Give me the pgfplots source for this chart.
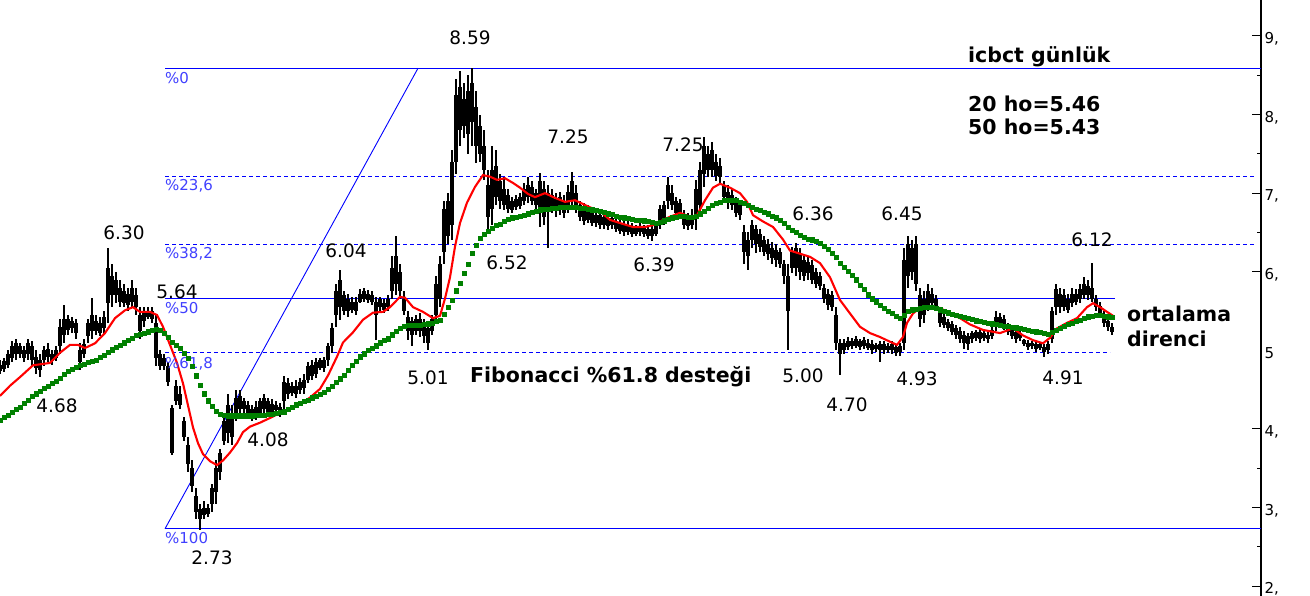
\documentclass[border=0pt]{standalone}
\usepackage{fontspec}
\setmainfont{DejaVu Sans}
\usepackage{pgfplots}
\usepackage{pgfplotstable}
\pgfplotsset{compat=1.18}
\definecolor{fibblue}{RGB}{0,0,255}
\definecolor{fibtext}{RGB}{64,64,255}
\definecolor{magreen}{RGB}{0,128,0}
\definecolor{mared}{RGB}{255,0,0}

\pgfplotstableread{
x l h bb bt g
0 4.70 4.88 4.74 4.82 4.11
4 4.72 4.90 4.76 4.86 4.15
8 4.78 5.00 4.82 4.95 4.18
12 4.85 5.12 4.90 5.05 4.21
16 4.88 5.15 4.95 5.10 4.25
20 4.90 5.10 4.95 5.05 4.28
24 4.85 5.05 4.90 5.00 4.33
28 4.88 5.15 4.95 5.10 4.37
32 4.80 5.12 4.88 5.05 4.42
36 4.70 5.00 4.78 4.92 4.45
40 4.66 4.95 4.75 4.88 4.48
44 4.80 5.05 4.88 5.00 4.52
48 4.85 5.10 4.92 5.02 4.55
52 4.82 5.00 4.86 4.95 4.58
56 4.86 5.05 4.90 5.00 4.61
60 4.95 5.40 5.05 5.30 4.65
64 5.10 5.58 5.20 5.40 4.70
68 5.20 5.45 5.26 5.40 4.74
72 5.22 5.42 5.28 5.38 4.76
76 5.15 5.40 5.22 5.35 4.79
80 4.75 5.10 4.85 5.00 4.81
84 4.90 5.15 4.95 5.08 4.83
88 5.10 5.40 5.18 5.35 4.85
92 5.15 5.67 5.25 5.45 4.86
96 5.20 5.45 5.25 5.38 4.88
100 5.18 5.42 5.22 5.35 4.91
104 5.20 5.50 5.28 5.42 4.94
108 5.35 6.30 5.60 6.05 4.98
112 5.55 6.10 5.70 5.95 5.01
116 5.60 6.00 5.70 5.90 5.04
120 5.55 5.90 5.62 5.80 5.07
124 5.55 5.85 5.60 5.75 5.10
128 5.50 5.80 5.58 5.72 5.13
132 5.55 5.90 5.62 5.80 5.16
136 5.45 5.80 5.55 5.70 5.19
140 5.15 5.55 5.25 5.45 5.21
144 5.30 5.55 5.38 5.50 5.22
148 5.40 5.55 5.42 5.50 5.24
152 5.35 5.55 5.40 5.50 5.26
156 4.80 5.45 4.90 5.35 5.27
160 4.75 5.00 4.80 4.95 5.26
164 4.75 4.95 4.80 4.90 5.22
168 4.55 4.85 4.60 4.80 5.17
172 3.67 4.30 3.70 4.27 5.11
176 4.30 4.62 4.35 4.55 5.07
180 4.25 4.55 4.30 4.45 5.03
184 3.85 4.15 3.90 4.10 4.97
188 3.45 3.90 3.55 3.80 4.90
192 3.20 3.60 3.28 3.50 4.80
196 2.85 3.25 2.95 3.15 4.68
200 2.72 3.05 2.85 2.98 4.56
204 2.85 3.08 2.90 3.00 4.45
208 2.88 3.05 2.92 3.00 4.36
212 2.95 3.30 3.05 3.25 4.29
216 3.05 3.60 3.20 3.50 4.23
220 3.35 3.75 3.45 3.70 4.19
224 3.80 4.15 3.85 4.10 4.18
228 3.82 4.45 3.95 4.30 4.17
232 3.80 4.30 3.90 4.20 4.17
236 4.10 4.50 4.20 4.40 4.17
240 4.15 4.50 4.25 4.42 4.17
244 4.20 4.40 4.25 4.35 4.17
248 4.15 4.35 4.20 4.30 4.17
252 4.10 4.30 4.15 4.25 4.17
256 4.12 4.35 4.18 4.28 4.18
260 4.15 4.40 4.20 4.35 4.18
264 4.20 4.45 4.25 4.40 4.18
268 4.15 4.40 4.22 4.35 4.19
272 4.18 4.38 4.22 4.32 4.19
276 4.20 4.35 4.24 4.30 4.20
280 4.15 4.33 4.20 4.28 4.21
284 4.25 4.68 4.35 4.60 4.22
288 4.38 4.65 4.45 4.58 4.25
292 4.42 4.60 4.46 4.55 4.28
296 4.40 4.62 4.45 4.55 4.31
300 4.45 4.65 4.50 4.60 4.33
304 4.45 4.70 4.52 4.62 4.35
308 4.58 4.85 4.62 4.80 4.37
312 4.62 4.88 4.68 4.82 4.40
316 4.65 4.90 4.70 4.85 4.42
320 4.75 4.90 4.78 4.88 4.44
324 4.72 4.92 4.78 4.88 4.47
328 4.80 5.10 4.88 5.05 4.51
332 4.97 5.35 5.05 5.28 4.55
336 5.30 5.85 5.45 5.75 4.60
340 5.39 6.02 5.55 5.90 4.64
344 5.45 5.75 5.50 5.70 4.69
348 5.42 5.72 5.50 5.65 4.75
352 5.48 5.68 5.52 5.62 4.81
356 5.45 5.68 5.50 5.62 4.86
360 5.60 5.78 5.62 5.72 4.92
364 5.62 5.80 5.65 5.75 4.96
368 5.60 5.77 5.64 5.72 5.00
372 5.58 5.75 5.62 5.70 5.03
376 5.13 5.68 5.45 5.62 5.06
380 5.50 5.68 5.55 5.65 5.10
384 5.48 5.65 5.52 5.60 5.13
388 5.50 5.70 5.55 5.65 5.15
392 5.65 6.20 5.75 6.05 5.20
396 5.70 6.45 5.85 6.20 5.25
400 5.65 6.10 5.75 6.00 5.28
404 5.45 5.75 5.50 5.65 5.31
408 5.13 5.50 5.25 5.42 5.32
412 5.05 5.42 5.20 5.38 5.32
416 5.20 5.45 5.25 5.40 5.32
420 5.17 5.48 5.25 5.40 5.32
424 5.10 5.40 5.18 5.32 5.33
428 5.01 5.35 5.10 5.28 5.34
432 5.20 5.45 5.25 5.40 5.35
436 5.35 5.95 5.45 5.85 5.37
440 5.55 6.20 5.65 6.10 5.39
444 6.10 6.90 6.25 6.80 5.46
448 6.35 7.00 6.45 6.90 5.55
452 6.40 7.55 6.60 7.40 5.64
456 7.25 8.45 7.40 8.25 5.76
460 7.60 8.55 7.80 8.35 5.86
464 7.70 8.40 7.85 8.20 5.98
468 7.50 8.50 7.75 8.30 6.10
472 7.60 8.59 7.90 8.40 6.24
476 7.38 8.30 7.60 8.10 6.34
480 7.40 8.00 7.50 7.85 6.43
484 7.17 7.80 7.30 7.60 6.48
488 6.52 7.30 6.70 7.10 6.52
492 6.60 7.60 6.80 7.30 6.56
496 6.85 7.55 6.95 7.35 6.59
500 6.80 7.25 6.90 7.15 6.61
504 6.79 7.20 6.85 7.05 6.64
508 6.75 7.05 6.80 6.98 6.67
512 6.75 6.95 6.78 6.90 6.69
516 6.78 6.98 6.82 6.92 6.70
520 6.80 7.00 6.84 6.95 6.71
524 6.85 7.13 6.90 7.05 6.72
528 6.88 7.20 6.95 7.10 6.74
532 6.85 7.15 6.90 7.08 6.76
536 6.79 7.05 6.85 7.00 6.77
540 6.57 7.26 6.75 7.15 6.79
544 6.60 7.15 6.70 7.05 6.80
548 6.30 7.10 6.80 7.00 6.80
552 6.75 7.05 6.80 6.98 6.81
556 6.70 7.00 6.78 6.92 6.81
560 6.72 7.02 6.78 6.95 6.82
564 6.68 6.98 6.75 6.90 6.82
568 6.75 7.10 6.82 7.02 6.82
572 6.80 7.27 6.90 7.15 6.82
576 6.75 7.10 6.82 7.00 6.82
580 6.65 6.90 6.70 6.85 6.81
584 6.60 6.88 6.65 6.80 6.81
588 6.62 6.85 6.66 6.78 6.80
592 6.58 6.82 6.62 6.75 6.79
596 6.57 6.80 6.62 6.72 6.78
600 6.55 6.78 6.60 6.72 6.77
604 6.55 6.75 6.60 6.70 6.76
608 6.53 6.72 6.58 6.68 6.74
612 6.55 6.74 6.60 6.68 6.73
616 6.50 6.70 6.55 6.65 6.71
620 6.48 6.68 6.52 6.62 6.70
624 6.45 6.66 6.50 6.60 6.69
628 6.47 6.64 6.50 6.60 6.68
632 6.44 6.62 6.48 6.58 6.67
636 6.45 6.60 6.48 6.56 6.66
640 6.46 6.62 6.50 6.58 6.66
644 6.44 6.60 6.48 6.56 6.65
648 6.42 6.60 6.46 6.55 6.64
652 6.39 6.58 6.45 6.54 6.63
656 6.45 6.62 6.48 6.58 6.62
660 6.55 6.85 6.60 6.80 6.63
664 6.60 6.90 6.65 6.85 6.65
668 6.80 7.20 6.90 7.10 6.67
672 6.79 7.10 6.85 7.00 6.69
676 6.70 6.95 6.75 6.90 6.70
680 6.70 6.92 6.75 6.88 6.71
684 6.55 6.78 6.60 6.72 6.71
688 6.53 6.75 6.58 6.70 6.70
692 6.55 6.80 6.60 6.72 6.70
696 6.53 7.17 6.70 7.05 6.71
700 6.70 7.40 6.85 7.30 6.74
704 7.08 7.72 7.25 7.60 6.77
708 7.20 7.60 7.30 7.50 6.81
712 7.20 7.65 7.30 7.55 6.85
716 7.15 7.50 7.22 7.40 6.87
720 7.13 7.45 7.20 7.35 6.89
724 6.90 7.15 6.95 7.10 6.91
728 6.80 7.10 6.88 7.02 6.91
732 6.79 7.05 6.85 6.98 6.91
736 6.70 6.95 6.75 6.90 6.91
740 6.66 6.90 6.72 6.85 6.89
744 6.10 6.60 6.25 6.50 6.87
748 6.02 6.50 6.20 6.40 6.85
752 6.30 6.66 6.40 6.60 6.82
756 6.24 6.60 6.35 6.55 6.80
760 6.25 6.55 6.32 6.48 6.78
764 6.20 6.45 6.25 6.40 6.76
768 6.15 6.42 6.22 6.35 6.74
772 6.10 6.38 6.18 6.30 6.71
776 6.06 6.35 6.15 6.28 6.69
780 6.05 6.30 6.10 6.25 6.66
784 5.85 6.15 5.95 6.10 6.62
788 5.00 6.10 5.50 5.95 6.57
792 5.98 6.31 6.05 6.25 6.53
796 5.95 6.36 6.05 6.30 6.50
800 5.90 6.30 6.00 6.22 6.47
804 5.88 6.22 5.95 6.15 6.44
808 5.90 6.20 5.98 6.12 6.42
812 5.85 6.15 5.90 6.08 6.41
816 5.80 6.05 5.85 6.00 6.39
820 5.77 6.00 5.82 5.95 6.37
824 5.60 5.85 5.65 5.80 6.33
828 5.52 5.78 5.58 5.72 6.29
832 5.50 5.75 5.55 5.70 6.24
836 5.00 5.55 5.10 5.45 6.19
840 4.69 5.15 4.95 5.10 6.11
844 4.95 5.15 5.00 5.10 6.06
848 5.00 5.17 5.04 5.12 6.01
852 5.02 5.16 5.05 5.12 5.96
856 5.03 5.18 5.06 5.14 5.90
860 5.00 5.15 5.04 5.12 5.83
864 5.02 5.17 5.05 5.13 5.78
868 5.00 5.15 5.03 5.10 5.71
872 4.95 5.13 5.00 5.08 5.66
876 4.98 5.10 5.02 5.07 5.62
880 4.85 5.12 5.00 5.08 5.58
884 4.95 5.12 5.00 5.08 5.54
888 4.97 5.10 5.00 5.06 5.50
892 4.96 5.12 5.00 5.08 5.47
896 4.93 5.08 4.97 5.04 5.44
900 4.93 5.10 4.98 5.05 5.41
904 5.00 6.30 5.10 6.15 5.45
908 5.80 6.45 5.95 6.35 5.50
912 5.90 6.40 6.00 6.30 5.52
916 5.75 6.45 5.85 6.35 5.53
920 5.30 5.80 5.40 5.70 5.54
924 5.35 5.75 5.45 5.65 5.55
928 5.50 5.85 5.55 5.75 5.55
932 5.55 5.80 5.60 5.72 5.55
936 5.50 5.70 5.55 5.65 5.54
940 5.30 5.55 5.35 5.50 5.52
944 5.28 5.48 5.32 5.42 5.50
948 5.25 5.40 5.28 5.36 5.48
952 5.20 5.38 5.24 5.34 5.46
956 5.15 5.32 5.20 5.28 5.45
960 5.10 5.30 5.15 5.25 5.44
964 5.02 5.25 5.10 5.20 5.42
968 5.00 5.22 5.08 5.18 5.41
972 5.10 5.25 5.14 5.22 5.40
976 5.12 5.26 5.16 5.23 5.38
980 5.10 5.28 5.15 5.24 5.37
984 5.12 5.25 5.16 5.22 5.36
988 5.10 5.24 5.14 5.20 5.35
992 5.15 5.30 5.18 5.26 5.34
996 5.25 5.50 5.30 5.42 5.33
1000 5.28 5.48 5.32 5.42 5.32
1004 5.26 5.45 5.30 5.40 5.31
1008 5.20 5.35 5.24 5.32 5.31
1012 5.15 5.30 5.18 5.26 5.30
1016 5.10 5.28 5.15 5.24 5.29
1020 5.12 5.26 5.16 5.22 5.28
1024 5.05 5.15 5.08 5.13 5.27
1028 5.00 5.13 5.04 5.10 5.26
1032 5.02 5.12 5.05 5.10 5.25
1036 4.98 5.12 5.02 5.08 5.24
1040 5.00 5.10 5.03 5.08 5.23
1044 4.91 5.08 4.98 5.04 5.22
1048 4.95 5.12 5.00 5.08 5.21
1052 5.10 5.55 5.15 5.50 5.23
1056 5.45 5.85 5.55 5.78 5.26
1060 5.48 5.80 5.55 5.72 5.28
1064 5.50 5.78 5.55 5.70 5.31
1068 5.48 5.72 5.52 5.65 5.33
1072 5.55 5.80 5.60 5.72 5.35
1076 5.58 5.78 5.62 5.72 5.37
1080 5.60 5.85 5.65 5.78 5.39
1084 5.65 5.93 5.70 5.85 5.41
1088 5.64 5.90 5.70 5.82 5.43
1092 5.62 6.11 5.65 5.80 5.44
1096 5.50 5.70 5.55 5.65 5.45
1100 5.42 5.62 5.46 5.56 5.45
1104 5.30 5.50 5.35 5.45 5.44
1108 5.25 5.42 5.30 5.38 5.43
1112 5.20 5.35 5.24 5.30 5.42
}\bars

\pgfplotstableread{
x r
0 4.42
10 4.55
20 4.66
33 4.81
50 4.84
60 4.97
70 5.07
78 5.07
85 5.03
95 5.09
105 5.22
115 5.41
125 5.51
133 5.55
140 5.49
150 5.49
157 5.45
163 5.30
170 5.07
177 4.84
183 4.58
188 4.30
193 4.02
198 3.82
203 3.68
210 3.59
217 3.54
223 3.60
230 3.70
237 3.82
243 3.96
250 4.03
260 4.08
270 4.14
283 4.22
297 4.29
310 4.40
320 4.51
328 4.68
337 4.92
343 5.10
353 5.23
363 5.39
373 5.48
383 5.49
390 5.55
400 5.68
405 5.67
413 5.55
423 5.49
433 5.41
440 5.44
445 5.66
450 5.93
455 6.32
460 6.62
467 6.88
475 7.08
483 7.23
490 7.21
497 7.17
505 7.19
513 7.13
520 7.07
528 6.99
535 6.95
545 7.00
555 6.94
565 6.89
575 6.91
590 6.82
600 6.77
610 6.66
620 6.62
633 6.57
645 6.57
655 6.60
663 6.66
670 6.70
680 6.75
690 6.70
697 6.72
705 6.91
713 7.07
720 7.12
730 7.07
740 7.00
747 6.89
753 6.72
763 6.64
773 6.57
783 6.41
790 6.27
800 6.23
810 6.19
820 6.11
830 5.93
840 5.64
850 5.47
860 5.30
870 5.22
880 5.17
890 5.11
897 5.07
903 5.17
907 5.35
913 5.47
920 5.54
930 5.55
940 5.54
950 5.47
960 5.41
970 5.33
983 5.26
1000 5.22
1013 5.28
1023 5.19
1033 5.13
1043 5.09
1050 5.16
1057 5.28
1067 5.35
1077 5.41
1087 5.55
1093 5.60
1100 5.55
1107 5.49
1113 5.44
}\redma

\tikzset{
  vlab/.style={font=\fontsize{18.5}{22}\selectfont, text=black, inner sep=0pt, text height=13.5pt, text depth=0pt, anchor=center},
  fiblab/.style={font=\fontsize{15}{18}\selectfont, text=fibtext, inner sep=0pt, text height=11pt, text depth=0pt, anchor=west},
  blab/.style={font=\bfseries\fontsize{20.5}{24}\selectfont, text=black, inner sep=0pt, anchor=base west},
}

\begin{document}
\begin{tikzpicture}
\path[use as bounding box] (0,0) rectangle (1310pt,596pt);
\begin{axis}[
  at={(0,0)}, anchor=south west,
  scale only axis, width=1261pt, height=596pt,
  xmin=0, xmax=1261, ymin=1.875, ymax=9.458,
  axis x line=none, axis y line=right,
  y axis line style={-, black, line width=1.2pt},
  xtick=\empty,
  ytick={2,3,4,6,7,8,9},
  yticklabels={{2,},{3,},{4,},{6,},{7,},{8,},{9,}},
  extra y ticks={5},
  extra y tick labels={{5,}},
  extra y tick style={major tick length=0pt},
  minor ytick={2.5,3.5,6.5,7.5,8.5},
  tick align=inside,
  major tick length=9pt, minor tick length=4pt,
  tick style={black, line width=1pt},
  yticklabel style={font=\fontsize{15}{18}\selectfont, yshift=-3pt},
  clip=true,
]
% Fibonacci levels
\addplot[fibblue, line width=1pt, forget plot] coordinates {(165,8.59) (1261,8.59)};
\addplot[fibblue, line width=1pt, dash pattern=on 4pt off 3pt, forget plot] coordinates {(165,7.207) (1255,7.207)};
\addplot[fibblue, line width=1pt, dash pattern=on 4pt off 3pt, forget plot] coordinates {(165,6.351) (1255,6.351)};
\addplot[fibblue, line width=1pt, forget plot] coordinates {(165,5.66) (1115,5.66)};
\addplot[fibblue, line width=1pt, dash pattern=on 4pt off 3pt, forget plot] coordinates {(165,4.969) (1110,4.969)};
\addplot[fibblue, line width=1pt, forget plot] coordinates {(165,2.73) (1261,2.73)};
\addplot[fibblue, line width=0.9pt, forget plot] coordinates {(165,2.73) (418,8.59)};

% candles: wicks
\addplot[draw=none, mark=none, forget plot,
  error bars/.cd, y dir=both, y explicit, error mark=none,
  error bar style={draw=black, line width=1.2pt}]
  table[x=x, y expr={(\thisrow{h}+\thisrow{l})/2}, y error expr={(\thisrow{h}-\thisrow{l})/2}] {\bars};
% candles: bodies
\addplot[draw=none, mark=none, forget plot,
  error bars/.cd, y dir=both, y explicit, error mark=none,
  error bar style={draw=black, line width=3.4pt}]
  table[x=x, y expr={(\thisrow{bt}+\thisrow{bb})/2}, y error expr={(\thisrow{bt}-\thisrow{bb})/2}] {\bars};

% moving averages
\addplot[mared, line width=2.1pt, mark=none] table[x=x, y=r] {\redma};
\addplot[magreen, only marks, mark=square*, mark size=2.1pt, mark options={line width=0.2pt}] table[x=x, y=g] {\bars};

% fib labels
\node[fiblab] at (axis cs:165,8.47) {\%0};
\node[fiblab] at (axis cs:165,7.104) {\%23,6};
\node[fiblab] at (axis cs:165,6.24) {\%38,2};
\node[fiblab] at (axis cs:165,5.54) {\%50};
\node[fiblab] at (axis cs:165,4.84) {\%61,8};
\node[fiblab] at (axis cs:165,2.613) {\%100};

% value labels
\node[vlab] at (axis cs:470,8.975) {8.59};
\node[vlab] at (axis cs:568,7.715) {7.25};
\node[vlab] at (axis cs:683,7.613) {7.25};
\node[vlab] at (axis cs:507,6.112) {6.52};
\node[vlab] at (axis cs:654,6.087) {6.39};
\node[vlab] at (axis cs:813,6.735) {6.36};
\node[vlab] at (axis cs:902,6.735) {6.45};
\node[vlab] at (axis cs:1092,6.405) {6.12};
\node[vlab] at (axis cs:124,6.494) {6.30};
\node[vlab] at (axis cs:177,5.743) {5.64};
\node[vlab] at (axis cs:346,6.265) {6.04};
\node[vlab] at (axis cs:57,4.293) {4.68};
\node[vlab] at (axis cs:268,3.860) {4.08};
\node[vlab] at (axis cs:212,2.359) {2.73};
\node[vlab] at (axis cs:428,4.649) {5.01};
\node[vlab] at (axis cs:803,4.674) {5.00};
\node[vlab] at (axis cs:847,4.305) {4.70};
\node[vlab] at (axis cs:917,4.636) {4.93};
\node[vlab] at (axis cs:1063,4.649) {4.91};

% bold annotations
\node[blab] at (axis cs:968,8.669) {icbct günlük};
\node[blab] at (axis cs:968,8.033) {20 ho=5.46};
\node[blab] at (axis cs:968,7.741) {50 ho=5.43};
\node[blab] at (axis cs:1127,5.362) {ortalama};
\node[blab] at (axis cs:1127,5.043) {direnci};
\node[blab] at (axis cs:470,4.585) {Fibonacci \%61.8 desteği};
\end{axis}
\end{tikzpicture}
\end{document}
